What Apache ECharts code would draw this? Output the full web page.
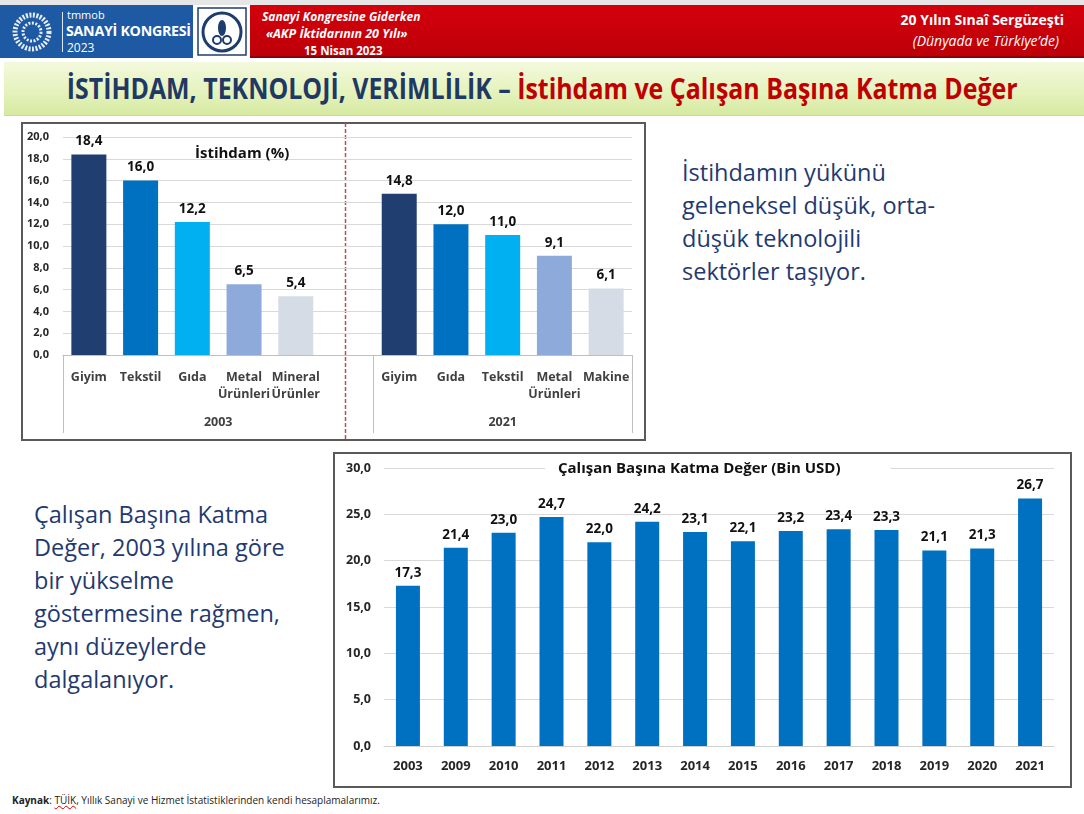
<!DOCTYPE html>
<html>
<head>
<meta charset="UTF-8">
<title>İstihdam ve Çalışan Başına Katma Değer</title>
<script src="https://cdn.jsdelivr.net/npm/echarts@6/dist/echarts.min.js"></script>
<style>
  body{margin:0;padding:0;background:#fff;font-family:"Open Sans",sans-serif;}
  #slide{position:relative;width:1084px;height:814px;overflow:hidden;background:#fff;}
  .abs{position:absolute;}
  #topstrip{left:0;top:0;width:1084px;height:5px;background:#e6e6e6;}
  #hblue{left:0;top:5px;width:193px;height:53px;background:#1d5aa3;}
  #hwhite{left:194px;top:5px;width:56px;height:53px;background:#fff;}
  #hred{left:250px;top:5px;width:834px;height:53px;background:linear-gradient(#d4000c,#bd0008);border-bottom:2px solid #8a0006;box-sizing:border-box;}
  .wt{color:#fff;white-space:nowrap;}
  #tbar{left:4px;top:62px;width:1080px;height:53px;background:linear-gradient(#f3f9dd,#e4f2bb 60%,#d5e9a0);border-bottom:1px solid #c9dc98;}
  #ttext{left:0;top:62px;width:1084px;height:53px;line-height:53px;text-align:center;font-weight:700;font-size:28px;white-space:nowrap;}
  #ttext span.in{display:inline-block;transform:scaleX(0.89);}
  .box{border:2px solid #5a5a5a;box-sizing:border-box;background:#fff;}
  .note{color:#1f3a70;font-size:23.5px;line-height:33px;white-space:nowrap;}
  #foot{left:12px;top:793px;font-size:10px;color:#222;white-space:nowrap;}
  #chart{left:0;top:0;width:1084px;height:814px;}
</style>
</head>
<body>
<div id="slide">
  <div id="topstrip" class="abs"></div>
  <div id="hblue" class="abs"></div>
  <svg class="abs" style="left:8px;top:10px" width="48" height="44">
    <circle cx="24" cy="22" r="17" fill="none" stroke="#e8eef8" stroke-width="5" stroke-dasharray="2 1.5"/>
    <circle cx="24" cy="22" r="9" fill="none" stroke="#e8eef8" stroke-width="3" stroke-dasharray="2 1.5"/>
  </svg>
  <div class="abs" style="left:62px;top:12px;width:1px;height:40px;background:#dfe8f5"></div>
  <div class="abs wt" style="left:67px;top:7px;font-size:11px">tmmob</div>
  <div class="abs wt" style="left:66px;top:20px;font-size:15px;font-weight:700;letter-spacing:-0.3px"><span style="display:inline-block;transform:scaleX(0.95);transform-origin:left">SANAYİ KONGRESİ</span></div>
  <div class="abs wt" style="left:67px;top:39px;font-size:12px">2023</div>
  <div id="hwhite" class="abs"></div>
  <svg class="abs" style="left:197px;top:7px" width="50" height="49">
    <rect x="1" y="1" width="48" height="47" fill="#fff" stroke="#1f3c6e" stroke-width="1.5"/>
    <circle cx="25" cy="25" r="19" fill="none" stroke="#1f3c6e" stroke-width="3"/>
    <ellipse cx="25" cy="21" rx="4" ry="8" fill="#1f3c6e"/>
    <circle cx="20" cy="33" r="4" fill="none" stroke="#1f3c6e" stroke-width="2"/>
    <circle cx="30" cy="33" r="4" fill="none" stroke="#1f3c6e" stroke-width="2"/>
  </svg>
  <div id="hred" class="abs"></div>
  <div class="abs wt" style="left:262px;top:8px;font-size:12px;font-weight:700;font-style:italic">Sanayi Kongresine Giderken</div>
  <div class="abs wt" style="left:266px;top:25px;font-size:12.5px;font-weight:700;font-style:italic">«AKP İktidarının 20 Yılı»</div>
  <div class="abs wt" style="left:304px;top:43px;font-size:11.5px;font-weight:700">15 Nisan 2023</div>
  <div class="abs wt" style="right:20px;top:10px;font-size:14px;font-weight:700">20 Yılın Sınaî Sergüzeşti</div>
  <div class="abs wt" style="right:25px;top:31px;font-size:14px;font-style:italic">(Dünyada ve Türkiye’de)</div>

  <div id="tbar" class="abs"></div>
  <div id="ttext" class="abs"><span class="in"><span style="color:#1f3864">İSTİHDAM, TEKNOLOJİ, VERİMLİLİK – </span><span style="color:#c00000">İstihdam ve Çalışan Başına Katma Değer</span></span></div>

  <div class="abs box" style="left:21px;top:122px;width:625px;height:319px"></div>
  <div class="abs box" style="left:333px;top:452px;width:739px;height:336px"></div>

  <div class="abs note" style="left:682px;top:156px">İstihdamın yükünü<br>geleneksel düşük, orta-<br>düşük teknolojili<br>sektörler taşıyor.</div>
  <div class="abs note" style="left:34px;top:498px">Çalışan Başına Katma<br>Değer, 2003 yılına göre<br>bir yükselme<br>göstermesine rağmen,<br>aynı düzeylerde<br>dalgalanıyor.</div>

  <div id="foot" class="abs"><b>Kaynak</b>: <span style="text-decoration:underline wavy #d00000">TÜİK</span>, Yıllık Sanayi ve Hizmet İstatistiklerinden kendi hesaplamalarımız.</div>

  <div id="chart" class="abs"></div>
</div>
<script type="text/javascript">
// İstihdam (%) - 2003 ve 2021 sektör payları
var cats2003 = ['Giyim', 'Tekstil', 'Gıda', 'Metal\nÜrünleri', 'Mineral\nÜrünler'];
var vals2003 = [18.4, 16.0, 12.2, 6.5, 5.4];
var cats2021 = ['Giyim', 'Gıda', 'Tekstil', 'Metal\nÜrünleri', 'Makine'];
var vals2021 = [14.8, 12.0, 11.0, 9.1, 6.1];
var groupYears = ['2003', '2021'];
var empTicks = [0, 2, 4, 6, 8, 10, 12, 14, 16, 18, 20];

// Çalışan başına katma değer (Bin USD)
var kdYears = ['2003', '2009', '2010', '2011', '2012', '2013', '2014', '2015', '2016', '2017', '2018', '2019', '2020', '2021'];
var kdVals = [17.3, 21.4, 23.0, 24.7, 22.0, 24.2, 23.1, 22.1, 23.2, 23.4, 23.3, 21.1, 21.3, 26.7];
var kdTicks = [0, 5, 10, 15, 20, 25, 30];

var barColors = ['#203f70', '#0070c0', '#00b0f0', '#8eaadb', '#d6dce5'];
var fnt = '"Open Sans", sans-serif';

function tr(v) { return Number(v).toFixed(1).replace('.', ','); }

// top chart: two groups with one empty slot between
var topCats = cats2003.concat([''], cats2021);
var topData = [];
vals2003.forEach(function (v, i) { topData.push({ value: v, itemStyle: { color: barColors[i] } }); });
topData.push('-');
vals2021.forEach(function (v, i) { topData.push({ value: v, itemStyle: { color: barColors[i] } }); });

var g1 = { left: 63, top: 137, width: 569, height: 218 };
var g2 = { left: 384, top: 468, width: 670, height: 278 };
var slot = g1.width / topCats.length;

var chart = echarts.init(document.getElementById('chart'));

var option = {
  animation: false,
  textStyle: { fontFamily: fnt },
  title: [
    { text: 'İstihdam (%)', left: 190, top: 141, textStyle: { fontSize: 15, fontWeight: 'bold', color: '#111', fontFamily: fnt } },
    { text: 'Çalışan Başına Katma Değer (Bin USD)', left: 545, top: 459,
      backgroundColor: '#fff', padding: [2, 50, 2, 13],
      textStyle: { fontSize: 15, fontWeight: 'bold', color: '#111', fontFamily: fnt } }
  ],
  grid: [
    { left: g1.left, top: g1.top, width: g1.width, height: g1.height },
    { left: g2.left, top: g2.top, width: g2.width, height: g2.height }
  ],
  xAxis: [
    { type: 'category', gridIndex: 0, data: topCats,
      axisLine: { lineStyle: { color: '#bfbfbf' } }, axisTick: { show: false },
      axisLabel: { interval: 0, margin: 14, fontSize: 12.5, fontWeight: 'bold', color: '#404040', lineHeight: 17, fontFamily: fnt } },
    { type: 'category', gridIndex: 1, data: kdYears,
      axisLine: { lineStyle: { color: '#d0d0d0' } }, axisTick: { show: false },
      axisLabel: { interval: 0, margin: 14, fontSize: 13, fontWeight: 'bold', color: '#262626', fontFamily: fnt } }
  ],
  yAxis: [
    { type: 'value', gridIndex: 0, min: empTicks[0], max: empTicks[empTicks.length - 1], interval: 2,
      axisLine: { show: false }, axisTick: { show: false },
      splitLine: { lineStyle: { color: '#d9d9d9' } },
      axisLabel: { margin: 14, fontSize: 11, fontWeight: 'bold', color: '#262626', formatter: tr, fontFamily: fnt } },
    { type: 'value', gridIndex: 1, min: kdTicks[0], max: kdTicks[kdTicks.length - 1], interval: 5,
      axisLine: { show: false }, axisTick: { show: false },
      splitLine: { lineStyle: { color: '#d9d9d9' } },
      axisLabel: { margin: 13, fontSize: 12.5, fontWeight: 'bold', color: '#262626', formatter: tr, fontFamily: fnt } }
  ],
  series: [
    { type: 'bar', xAxisIndex: 0, yAxisIndex: 0, data: topData, barWidth: 35,
      label: { show: true, position: 'top', distance: 6, fontSize: 13.5, fontWeight: 'bold', color: '#111',
        formatter: function (p) { return tr(p.value); }, fontFamily: fnt } },
    { type: 'bar', xAxisIndex: 1, yAxisIndex: 1, data: kdVals, barWidth: 24,
      itemStyle: { color: '#0070c0' },
      label: { show: true, position: 'top', distance: 6, fontSize: 13.5, fontWeight: 'bold', color: '#111',
        formatter: function (p) { return tr(p.value); }, fontFamily: fnt } }
  ],
  graphic: []
};

// group separators and group labels under the top chart
var bottomY = g1.top + g1.height;
var bounds = [0, cats2003.length + 1, topCats.length];
var gfx = [];
bounds.forEach(function (b) {
  var x = Math.round(g1.left + b * slot) + 0.5;
  gfx.push({ type: 'line', shape: { x1: x, y1: bottomY, x2: x, y2: bottomY + 78 }, style: { stroke: '#bfbfbf', lineWidth: 1 } });
});
for (var i = 0; i < groupYears.length; i++) {
  var cx = g1.left + (bounds[i] + bounds[i + 1]) / 2 * slot;
  gfx.push({ type: 'text', x: cx, y: bottomY + 67, style: { text: groupYears[i], textAlign: 'center', textVerticalAlign: 'middle',
    font: 'bold 12.5px ' + fnt, fill: '#404040' } });
}
// red dashed divider through the empty slot
var dx = Math.round(g1.left + (cats2003.length + 0.5) * slot) - 2.5;
gfx.push({ type: 'line', shape: { x1: dx, y1: 123, x2: dx, y2: 440 }, style: { stroke: '#c0504d', lineWidth: 1.5, lineDash: [4, 2] } });
option.graphic = gfx;

chart.setOption(option);
</script>
</body>
</html>
